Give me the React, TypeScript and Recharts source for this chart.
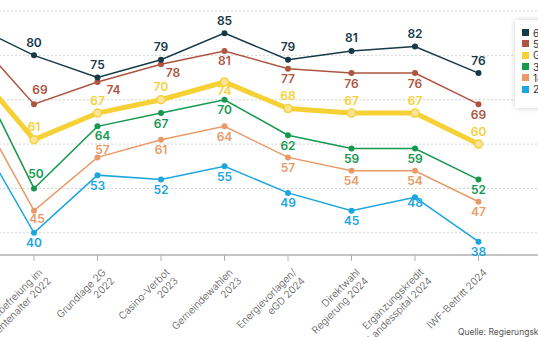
import React from "react";
import { LineChart, Line, XAxis, YAxis, CartesianGrid, LabelList } from "recharts";

const categories = [
  "Doppelte Staatsbürgerschaft 2020",
  "Franchisebefreiung im\nRentenalter 2022",
  "Grundlage 2G\n2022",
  "Casino-Verbot\n2023",
  "Gemeindewahlen\n2023",
  "Energievorlagen/\neGD 2024",
  "Direktwahl\nRegierung 2024",
  "Ergänzungskredit\nLandesspital 2024",
  "IWF-Beitritt 2024",
];

const age65 = [87, 80, 75, 79, 85, 79, 81, 82, 76];
const age50 = [85, 69, 74, 78, 81, 77, 76, 76, 69];
const total = [78, 61, 67, 70, 74, 68, 67, 67, 60];
const age35 = [79, 50, 64, 67, 70, 62, 59, 59, 52];
const age18 = [71, 45, 57, 61, 64, 57, 54, 54, 47];
const age25 = [65, 40, 53, 52, 55, 49, 45, 48, 38];

const yTicks = [35, 40, 45, 50, 55, 60, 65, 70, 75, 80, 85, 90];

const series = [
  { key: "a65", name: "65+ Jahre", values: age65, color: "#163a48", width: 1.5, pos: "above" },
  { key: "a50", name: "50–64 Jahre", values: age50, color: "#ad5540", width: 1.5, pos: "below" },
  { key: "tot", name: "Gesamt", values: total, color: "#f6d136", width: 5, pos: "above" },
  { key: "a35", name: "35–49 Jahre", values: age35, color: "#16994f", width: 1.5, pos: "below" },
  { key: "a18", name: "18–24 Jahre", values: age18, color: "#e99a68", width: 1.5, pos: "below" },
  { key: "a25", name: "25–34 Jahre", values: age25, color: "#1ba6df", width: 1.5, pos: "below" },
];

const data = categories.map((c, i) => {
  const row: any = { idx: i, name: c };
  series.forEach((s) => (row[s.key] = s.values[i]));
  return row;
});

const labelAdjust: Record<string, Record<number, [number, number]>> = {
  a50: { 1: [6, -15], 2: [16, 8], 3: [12, 8] },
  tot: { 4: [0, 9] },
  a35: { 1: [2, -15], 2: [5, 9] },
  a18: { 1: [3, 8], 2: [5, -8] },
  a25: { 7: [0, 5] },
};

const makeLabel = (s: any) => (props: any) => {
  const { x, y, value, index } = props;
  if (index === 0) return null;
  let dx = 0;
  let dy = s.pos === "above" ? -13 : 10;
  const adj = labelAdjust[s.key] && labelAdjust[s.key][index];
  if (adj) {
    dx = adj[0];
    dy = adj[1];
  }
  return (
    <text
      x={x + dx}
      y={y + dy}
      textAnchor="middle"
      dominantBaseline="central"
      fill={s.color}
      fontSize={12}
      fontWeight={600}
      fontFamily="Inter, 'Liberation Sans', sans-serif"
    >
      {value}
    </text>
  );
};

const CatTick = (props: any) => {
  const { x, payload } = props;
  const label = categories[payload.value] || "";
  const lines = label.split("\n");
  return (
    <g transform={`translate(${x + 9},${273})`}>
      <text
        transform="rotate(-45)"
        textAnchor="end"
        fontSize={10}
        fontWeight={300}
        fill="#555"
        fontFamily="Inter, 'Liberation Sans', sans-serif"
      >
        {lines.map((l: string, i: number) => (
          <tspan key={i} x={0} dy={i === 0 ? 0 : 12}>
            {l}
          </tspan>
        ))}
      </text>
    </g>
  );
};

export default function App() {
  return (
    <div
      style={{
        position: "fixed",
        left: 0,
        top: 0,
        width: 538,
        height: 337,
        overflow: "hidden",
        background: "#fff",
      }}
    >
      <div style={{ position: "absolute", left: -93.5, top: 0 }}>
        <LineChart width={698.5} height={337} data={data} margin={{ top: 11, right: 0, bottom: 0, left: 0 }}>
          <CartesianGrid horizontal vertical={false} stroke="#d4d4d4" strokeDasharray="2 2" />
          <YAxis hide type="number" domain={[35, 90]} ticks={yTicks} allowDataOverflow />
          <XAxis
            dataKey="idx"
            type="number"
            domain={[-1, 10]}
            ticks={[0, 1, 2, 3, 4, 5, 6, 7, 8]}
            allowDataOverflow
            height={82}
            stroke="#c4c4c4"
            strokeWidth={2}
            tickSize={6}
            tickLine={{ stroke: "#b0b0b0", strokeWidth: 1 }}
            tick={<CatTick />}
            interval={0}
          />
          {series
            .slice()
            .reverse()
            .map((s) => (
              <Line
                key={s.key}
                dataKey={s.key}
                name={s.name}
                type="linear"
                stroke={s.color}
                strokeWidth={s.width}
                isAnimationActive={false}
                dot={
                  s.key === "tot"
                    ? { r: 4, fill: "#fbe59a", stroke: s.color, strokeWidth: 1.5 }
                    : { r: 3, fill: s.color, stroke: s.color, strokeWidth: 0 }
                }
                activeDot={false}
              >
                <LabelList dataKey={s.key} content={makeLabel(s)} />
              </Line>
            ))}
        </LineChart>
      </div>
      <div
        style={{
          position: "absolute",
          left: 515,
          top: 20,
          width: 90,
          padding: "7px 0 13px 7px",
          background: "#fff",
          boxShadow: "0 0 6px rgba(0,0,0,0.18)",
          fontFamily: "Inter, 'Liberation Sans', sans-serif",
          fontSize: 10,
          color: "#333",
        }}
      >
        {series.map((s) => (
          <div key={s.key} style={{ display: "flex", alignItems: "center", height: 11.3 }}>
            <span style={{ width: 7, height: 7, background: s.color, display: "inline-block", marginRight: 4 }} />
            <span>{s.name}</span>
          </div>
        ))}
      </div>
      <div
        style={{
          position: "absolute",
          left: 458,
          top: 327,
          fontFamily: "Inter, 'Liberation Sans', sans-serif",
          fontSize: 8.5,
          color: "#555",
          whiteSpace: "nowrap",
        }}
      >
        Quelle: Regierungskanzlei
      </div>
    </div>
  );
}
